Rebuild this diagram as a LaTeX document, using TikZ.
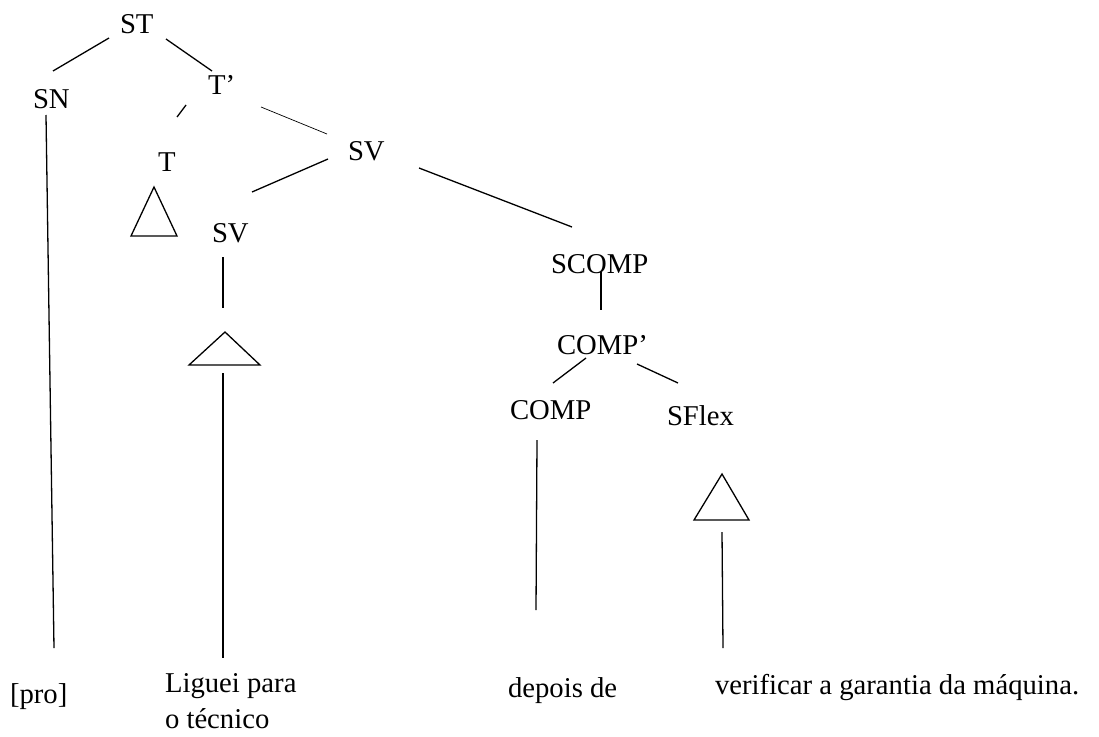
\documentclass[tikz,border=0pt]{standalone}
\usepackage{fontspec}
\setmainfont{Liberation Serif}
\begin{document}
\begin{tikzpicture}[x=1pt,y=-1pt,
  lbl/.style={anchor=base west,inner sep=0pt,outer sep=0pt,
    font=\fontsize{28.7}{36}\selectfont},
  branch/.style={line width=1.3pt},
  thin branch/.style={line width=0.7pt},
  tri/.style={line width=1.3pt,line join=miter}]
\useasboundingbox (0,0) rectangle (1099,736);

% category labels
\node[lbl] (ST)     at (120,33)  {ST};
\node[lbl] (SN)     at (33,108)  {SN};
\node[lbl] (Tbar)   at (208,94)  {T’};
\node[lbl] (T)      at (158,171) {T};
\node[lbl] (SV)     at (348,160) {SV};
\node[lbl] (SVlow)  at (212,242) {SV};
\node[lbl] (SCOMP)  at (551,273) {SCOMP};
\node[lbl] (COMPbar) at (557,354) {COMP’};
\node[lbl] (COMP)   at (510,419) {COMP};
\node[lbl] (SFlex)  at (667,425) {SFlex};

% terminal strings (base of a two-line node is its last line)
\node[lbl] (pro)  at (10,703)  {[pro]};
\node[lbl,align=left] (ligo) at (165,728) {Liguei para\\o técnico};
\node[lbl] (dep)  at (508,697) {depois de};
\node[lbl] (ver)  at (715,694) {verificar a garantia da máquina.};

% branch end points
\coordinate (a1) at (109,38);  \coordinate (a2) at (53,71);
\coordinate (b1) at (166,39);  \coordinate (b2) at (212,71);
\coordinate (c1) at (186,105); \coordinate (c2) at (177,117);
\coordinate (d1) at (261,107); \coordinate (d2) at (327,134);
\coordinate (e1) at (328,159); \coordinate (e2) at (252,192);
\coordinate (f1) at (419,168); \coordinate (f2) at (572,227);
\coordinate (g1) at (46,115);  \coordinate (g2) at (54,648);
\coordinate (h1) at (223,257); \coordinate (h2) at (223,308);
\coordinate (i1) at (223,373); \coordinate (i2) at (223,658);
\coordinate (j1) at (601,272); \coordinate (j2) at (601,310);
\coordinate (k1) at (586,358); \coordinate (k2) at (553,383);
\coordinate (l1) at (637,364); \coordinate (l2) at (678,383);
\coordinate (m1) at (537,440); \coordinate (m2) at (536,610);
\coordinate (n1) at (722,532); \coordinate (n2) at (723,648);

\draw[branch] (a1) -- (a2);
\draw[branch] (b1) -- (b2);
\draw[branch] (c1) -- (c2);
\draw[thin branch] (d1) -- (d2);
\draw[branch] (e1) -- (e2);
\draw[branch] (f1) -- (f2);
\draw[branch] (g1) -- (g2);
\draw[branch] (h1) -- (h2);
\draw[branch] (i1) -- (i2);
\draw[branch] (j1) -- (j2);
\draw[branch] (k1) -- (k2);
\draw[branch] (l1) -- (l2);
\draw[branch] (m1) -- (m2);
\draw[branch] (n1) -- (n2);

% triangles for unanalysed constituents
\draw[tri] (154,187) -- (177,236) -- (131,236) -- cycle;
\draw[tri] (225,332) -- (260,365) -- (189,365) -- cycle;
\draw[tri] (722,474) -- (749,520) -- (694,520) -- cycle;
\end{tikzpicture}
\end{document}
